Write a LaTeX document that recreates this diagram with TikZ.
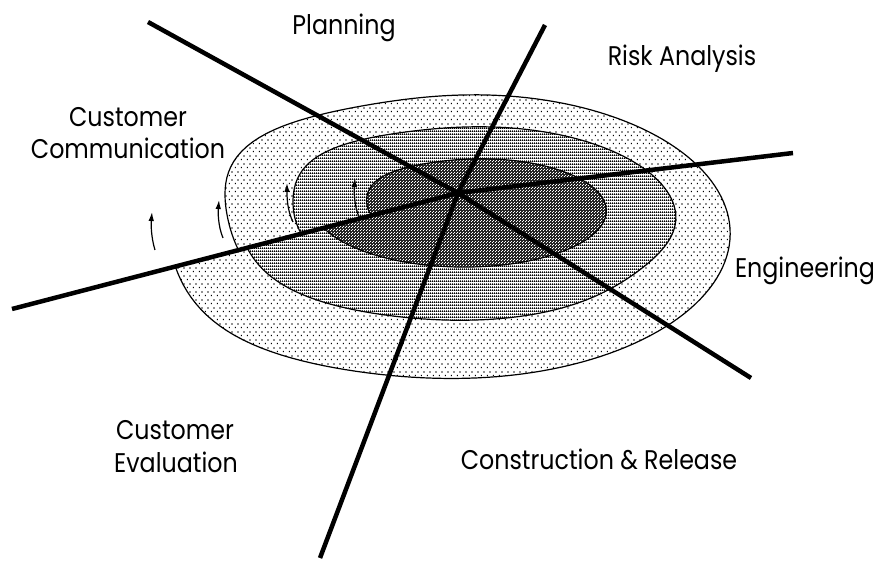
\documentclass[tikz,border=0pt]{standalone}
\usepackage{fontspec}
\setmainfont{Poppins}
\newfontfamily\lblfont{Poppins}[FakeStretch=0.88]
\usetikzlibrary{patterns,arrows.meta}

\pgfdeclarepatternformonly{outerdots}{\pgfqpoint{0pt}{0pt}}{\pgfqpoint{6pt}{8pt}}{\pgfqpoint{6pt}{8pt}}{%
  \pgfpathrectangle{\pgfqpoint{1pt}{1pt}}{\pgfqpoint{1.3pt}{1.3pt}}%
  \pgfpathrectangle{\pgfqpoint{4pt}{5pt}}{\pgfqpoint{1.3pt}{1.3pt}}%
  \pgfusepath{fill}}
\pgfdeclarepatternformonly{middense}{\pgfqpoint{0pt}{0pt}}{\pgfqpoint{2pt}{2.5pt}}{\pgfqpoint{2pt}{2.5pt}}{%
  \pgfpathrectangle{\pgfqpoint{0pt}{0pt}}{\pgfqpoint{2pt}{0.9pt}}%
  \pgfpathrectangle{\pgfqpoint{0pt}{1.25pt}}{\pgfqpoint{1.1pt}{0.9pt}}%
  \pgfusepath{fill}}
\pgfdeclarepatternformonly{innerspecks}{\pgfqpoint{0pt}{0pt}}{\pgfqpoint{3pt}{3pt}}{\pgfqpoint{3pt}{3pt}}{%
  \pgfpathrectangle{\pgfqpoint{0pt}{0pt}}{\pgfqpoint{1pt}{1pt}}%
  \pgfpathrectangle{\pgfqpoint{1.5pt}{1.5pt}}{\pgfqpoint{1pt}{1pt}}%
  \pgfusepath{fill}}

\tikzset{
  turnline/.style={draw=black, line width=1.2pt},
  ray/.style={draw=black, line width=4.5pt},
  cyclearrow/.style={draw=black, line width=1.2pt, -{Latex[length=9pt,width=5.5pt]}},
  lbl/.style={font=\lblfont\fontsize{27}{32}\selectfont, inner sep=0pt, anchor=base},
  declare function={
    gb(\t,\m,\s)=exp(-((\t-\m)/\s)*((\t-\m)/\s));
    Fo(\t)=1+0.12*gb(\t,145,25)+0.06*gb(\t,-140,25);
    Fm(\t)=1+0.10*gb(\t,140,25)+0.05*gb(\t,-140,25)-0.04*gb(\t,-35,25);
    Fi(\t)=1+0.06*gb(\t,140,25);
  },
}

\begin{document}
\begin{tikzpicture}[x=1pt,y=-1pt]
\useasboundingbox (0,0) rectangle (879,561);
\fill[white] (0,0) rectangle (879,561);

% spiral: outer turn
\path[preaction={fill=white}, pattern=outerdots]
  plot[domain=190:-166, samples=160, variable=\t]
  ({466+(232+0.1778*(180-\t))*Fo(\t)*cos(\t)}, {228-(124.4+0.0953*(180-\t))*Fo(\t)*sin(\t)}) -- cycle;
\draw[turnline]
  plot[domain=190:-166, samples=160, variable=\t]
  ({466+(232+0.1778*(180-\t))*Fo(\t)*cos(\t)}, {228-(124.4+0.0953*(180-\t))*Fo(\t)*sin(\t)});
% middle turn
\path[preaction={fill=white}, pattern=middense]
  plot[domain=192:-163, samples=160, variable=\t]
  ({472.5+(176.5+0.1557*(180-\t))*Fm(\t)*cos(\t)}, {216.9-(83.3+0.0735*(180-\t))*Fm(\t)*sin(\t)}) -- cycle;
\draw[turnline]
  plot[domain=192:-163, samples=160, variable=\t]
  ({472.5+(176.5+0.1557*(180-\t))*Fm(\t)*cos(\t)}, {216.9-(83.3+0.0735*(180-\t))*Fm(\t)*sin(\t)});
% inner turn
\path[preaction={fill=black!85}, pattern=innerspecks, pattern color=white]
  plot[domain=190:-161, samples=160, variable=\t]
  ({473.1+(105.1+0.1547*(180-\t))*Fi(\t)*cos(\t)}, {207.3-(42.7+0.0628*(180-\t))*Fi(\t)*sin(\t)}) -- cycle;
\draw[turnline]
  plot[domain=190:-161, samples=160, variable=\t]
  ({473.1+(105.1+0.1547*(180-\t))*Fi(\t)*cos(\t)}, {207.3-(42.7+0.0628*(180-\t))*Fi(\t)*sin(\t)});

% rays
\coordinate (c) at (458,193);
\coordinate (ul) at (148,22);
\coordinate (lr) at (751,378);
\coordinate (tp) at (545,25);
\coordinate (bt) at (320,558);
\coordinate (lf) at (12,309);
\coordinate (rt) at (793,153);
\draw[ray] (c) -- (ul);
\draw[ray] (c) -- (lr);
\draw[ray] (c) -- (tp);
\draw[ray] (c) -- (bt);
\draw[ray] (c) -- (lf);
\draw[ray] (c) -- (rt);

% arrows
\draw[cyclearrow] (155,250) .. controls (151,237) and (151,224) .. (152,212);
\draw[cyclearrow] (223,238) .. controls (218,226) and (218,212) .. (219,200);
\draw[cyclearrow] (293,222) .. controls (287,210) and (287,196) .. (287,183);
\draw[cyclearrow] (359,217) .. controls (354,205) and (354,191) .. (355,178);

% labels
\node[lbl] (planning) at (344,35) {Planning};
\node[lbl] (risk) at (682,66) {Risk Analysis};
\node[lbl] (cc1) at (128,127) {Customer};
\node[lbl] (cc2) at (128,159) {Communication};
\node[lbl] (eng) at (805,278) {Engineering};
\node[lbl] (ce1) at (175,439) {Customer};
\node[lbl] (ce2) at (176,472) {Evaluation};
\node[lbl] (cr) at (599,469) {Construction \& Release};
\end{tikzpicture}
\end{document}
